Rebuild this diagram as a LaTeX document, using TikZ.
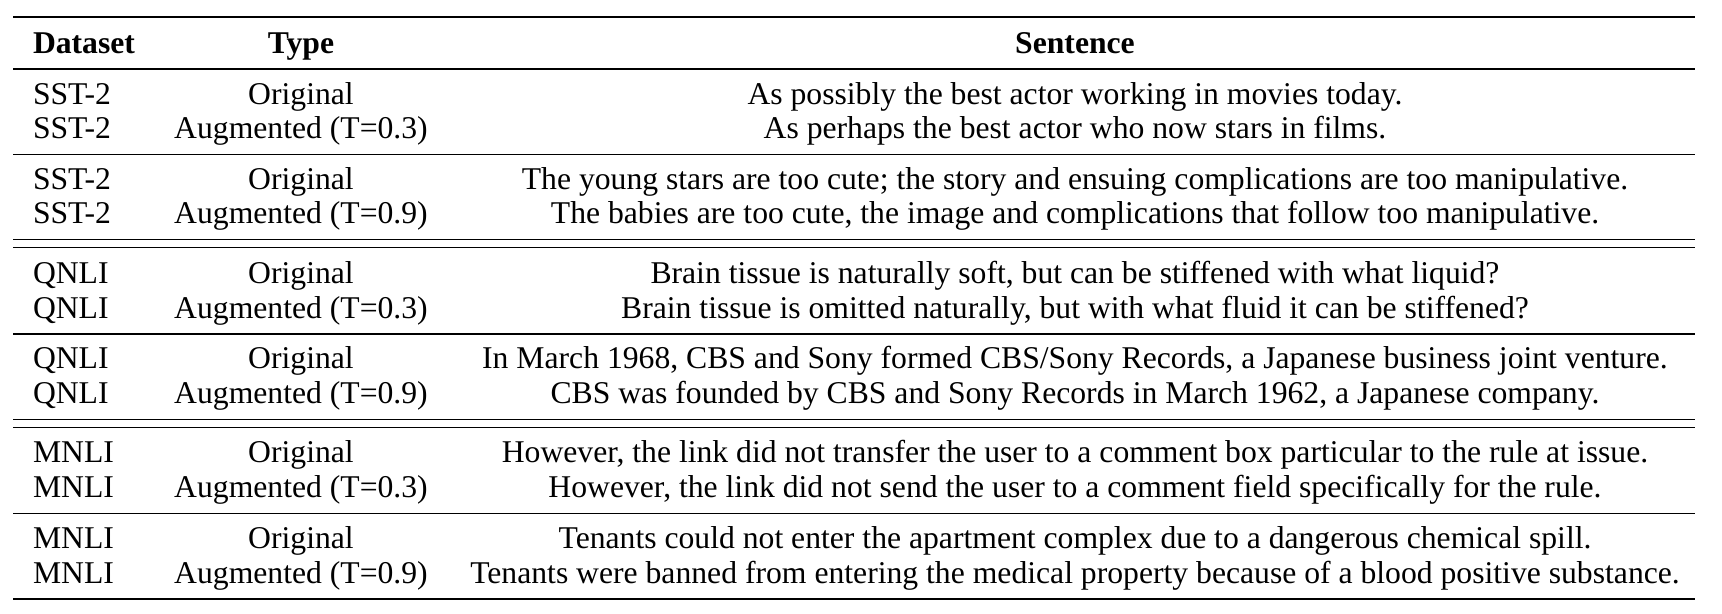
\documentclass[tikz,border=0pt]{standalone}
\usepackage{fontspec}
\setmainfont{Liberation Serif}
\begin{document}
\begin{tikzpicture}[x=0.36pt,y=-0.36pt,
  txt/.style={inner sep=0pt,outer sep=0pt,font=\fontsize{11.4pt}{13.7pt}\selectfont},
  ds/.style={txt,anchor=base west},
  ty/.style={txt,anchor=base},
  se/.style={txt,anchor=base},
  hd/.style={txt,font=\fontsize{11.4pt}{13.7pt}\selectfont\bfseries},
  heavy/.style={line width=0.8pt},
  light/.style={line width=0.45pt}]
\useasboundingbox (0,0) rectangle (1722,614);
% rules
\coordinate (L0) at (13,17.3);   \coordinate (R0) at (1695,17.3);
\coordinate (L1) at (13,69);     \coordinate (R1) at (1695,69);
\coordinate (L2) at (13,154.3);  \coordinate (R2) at (1695,154.3);
\coordinate (L3) at (13,239.3);  \coordinate (R3) at (1695,239.3);
\coordinate (L3b) at (13,247.3); \coordinate (R3b) at (1695,247.3);
\coordinate (L4) at (13,334);    \coordinate (R4) at (1695,334);
\coordinate (L5) at (13,419.3);  \coordinate (R5) at (1695,419.3);
\coordinate (L5b) at (13,427.3); \coordinate (R5b) at (1695,427.3);
\coordinate (L6) at (13,513.3);  \coordinate (R6) at (1695,513.3);
\coordinate (L7) at (13,599);    \coordinate (R7) at (1695,599);
\draw[heavy] (L0) -- (R0);
\draw[light] (L1) -- (R1);
\draw[light] (L2) -- (R2);
\draw[light] (L3) -- (R3);
\draw[light] (L3b) -- (R3b);
\draw[light] (L4) -- (R4);
\draw[light] (L5) -- (R5);
\draw[light] (L5b) -- (R5b);
\draw[light] (L6) -- (R6);
\draw[heavy] (L7) -- (R7);
% header
\node[hd,anchor=base west] (h1) at (33,53.5) {Dataset};
\node[hd,anchor=base] (h2) at (301,53.5) {Type};
\node[hd,anchor=base] (h3) at (1075,53.5) {Sentence};
% rows
\def\rowA#1#2#3#4#5{%
  \node[ds] (d#1) at (33,#2) {#3};
  \node[ty] (t#1) at (301,#2) {#4};
  \node[se] (s#1) at (1075,#2) {#5};}
\rowA{1}{104.5}{SST-2}{Original}{As possibly the best actor working in movies today.}
\rowA{2}{138.5}{SST-2}{Augmented (T=0.3)}{As perhaps the best actor who now stars in films.}
\rowA{3}{189.5}{SST-2}{Original}{The young stars are too cute; the story and ensuing complications are too manipulative.}
\rowA{4}{223.5}{SST-2}{Augmented (T=0.9)}{The babies are too cute, the image and complications that follow too manipulative.}
\rowA{5}{284}{QNLI}{Original}{Brain tissue is naturally soft, but can be stiffened with what liquid?}
\rowA{6}{318.5}{QNLI}{Augmented (T=0.3)}{Brain tissue is omitted naturally, but with what fluid it can be stiffened?}
\rowA{7}{369}{QNLI}{Original}{In March 1968, CBS and Sony formed CBS/Sony Records, a Japanese business joint venture.}
\rowA{8}{403.5}{QNLI}{Augmented (T=0.9)}{CBS was founded by CBS and Sony Records in March 1962, a Japanese company.}
\rowA{9}{463}{MNLI}{Original}{However, the link did not transfer the user to a comment box particular to the rule at issue.}
\rowA{10}{498}{MNLI}{Augmented (T=0.3)}{However, the link did not send the user to a comment field specifically for the rule.}
\rowA{11}{548.5}{MNLI}{Original}{Tenants could not enter the apartment complex due to a dangerous chemical spill.}
\rowA{12}{583.5}{MNLI}{Augmented (T=0.9)}{Tenants were banned from entering the medical property because of a blood positive substance.}
\end{tikzpicture}
\end{document}
